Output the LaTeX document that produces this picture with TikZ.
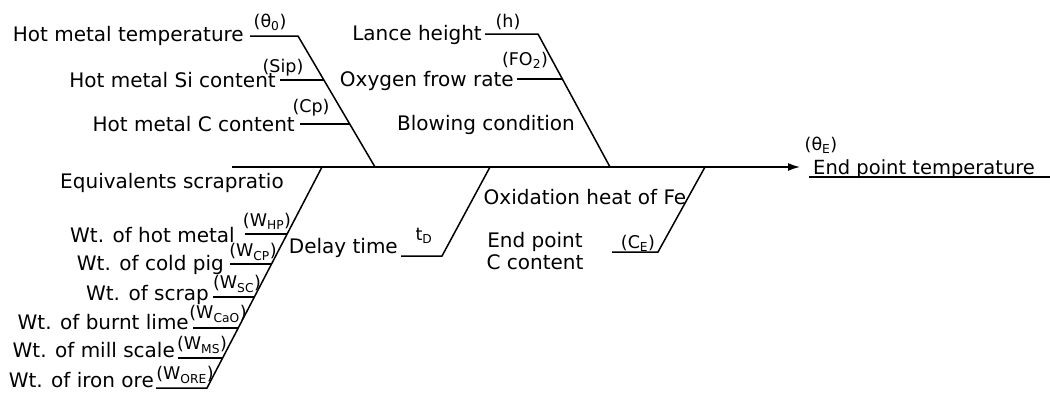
\documentclass[tikz,border=0pt]{standalone}
\usepackage{fontspec}
\setmainfont{DejaVu Sans}
\usepackage{tikz}
\usetikzlibrary{arrows.meta,positioning,calc}

\begin{document}
\begin{tikzpicture}[x=1pt,y=-1pt,
		bone/.style={line width=1.5pt},
		lbl/.style={inner sep=0pt,font=\fontsize{20}{22}\selectfont},
		sym/.style={inner sep=0pt,font=\fontsize{17.5}{21}\selectfont}]
		\useasboundingbox (0,0) rectangle (1050,399);

		% main line
		\coordinate (s0) at (232,167);
		\coordinate (s1) at (800,167);
		\draw[bone,-{Latex[length=12pt,width=8pt]}] (s0) -- (s1);
		\node[lbl,anchor=base west,font=\fontsize{19.5}{22}\selectfont] (ept) at (813,174) {End point temperature};
		\node[sym] (thE) at (821,145) {(θ\textsubscript{E})};
		\coordinate (u0) at (809,177);
		\coordinate (u1) at (1050,177);
		\draw[bone] (u0) -- (u1);

		% hot metal
		\coordinate (a0) at (298,36);
		\coordinate (a1) at (375,167);
		\coordinate (ta1) at (250,36);
		\coordinate (ta2) at (280,80);
		\coordinate (aa2) at (324,80);
		\coordinate (ta3) at (300,124);
		\coordinate (aa3) at (350,124);
		\draw[bone] (ta1) -- (a0) -- (a1);
		\draw[bone] (ta2) -- (aa2);
		\draw[bone] (ta3) -- (aa3);
		\node[lbl,anchor=base east] (hmt) at (244,41) {Hot metal temperature};
		\node[sym] (th0) at (270,22) {(θ\textsubscript{0})};
		\node[lbl,anchor=base east] (hmsi) at (276,87) {Hot metal Si content};
		\node[sym] (sip) at (283,68) {(Sip)};
		\node[lbl,anchor=base east] (hmc) at (295,131) {Hot metal C content};
		\node[sym] (cp) at (311,108) {(Cp)};

		% blowing condition
		\coordinate (b0) at (538,34);
		\coordinate (b1) at (610,167);
		\coordinate (tb1) at (485,34);
		\coordinate (tb2) at (517,79);
		\coordinate (bb2) at (563,79);
		\draw[bone] (tb1) -- (b0) -- (b1);
		\draw[bone] (tb2) -- (bb2);
		\node[lbl,anchor=base east] (lh) at (482,40) {Lance height};
		\node[sym] (h) at (508,22) {(h)};
		\node[lbl,anchor=base east] (ofr) at (514,86) {Oxygen frow rate};
		\node[sym] (fo2) at (525,60) {(FO\textsubscript{2})};
		\node[lbl] (blow) at (486,125) {Blowing condition};

		% scrap ratio
		\coordinate (c0) at (322,167);
		\coordinate (c1) at (207,388);
		\coordinate (tc1) at (245,234);
		\coordinate (cc1) at (287,234);
		\coordinate (tc2) at (230,264);
		\coordinate (cc2) at (271.5,264);
		\coordinate (tc3) at (213,297);
		\coordinate (cc3) at (254.3,297);
		\coordinate (tc4) at (193,328);
		\coordinate (cc4) at (238.2,328);
		\coordinate (tc5) at (178,358);
		\coordinate (cc5) at (222.6,358);
		\coordinate (tc6) at (156,388);
		\draw[bone] (c0) -- (c1) -- (tc6);
		\draw[bone] (tc1) -- (cc1);
		\draw[bone] (tc2) -- (cc2);
		\draw[bone] (tc3) -- (cc3);
		\draw[bone] (tc4) -- (cc4);
		\draw[bone] (tc5) -- (cc5);
		\node[lbl] (esr) at (172,183) {Equivalents scrapratio};
		\node[lbl,anchor=base east] (whp) at (235,242) {Wt. of hot metal};
		\node[sym] (swhp) at (267,221) {(W\textsubscript{HP})};
		\node[lbl,anchor=base east] (wcp) at (224,270) {Wt. of cold pig};
		\node[sym] (swcp) at (253,252) {(W\textsubscript{CP})};
		\node[lbl,anchor=base east] (wsc) at (209,300) {Wt. of scrap};
		\node[sym] (swsc) at (237,284) {(W\textsubscript{SC})};
		\node[lbl,anchor=base east] (wcao) at (189,329) {Wt. of burnt lime};
		\node[sym] (swcao) at (218,314) {(W\textsubscript{CaO})};
		\node[lbl,anchor=base east] (wms) at (175,357) {Wt. of mill scale};
		\node[sym] (swms) at (202,345) {(W\textsubscript{MS})};
		\node[lbl,anchor=base east] (wore) at (154,387) {Wt. of iron ore};
		\node[sym] (swore) at (185,375) {(W\textsubscript{ORE})};

		% delay time
		\coordinate (d0) at (490,167);
		\coordinate (d1) at (442,256);
		\coordinate (td) at (401,256);
		\draw[bone] (d0) -- (d1) -- (td);
		\node[lbl,anchor=base east] (delay) at (398,253) {Delay time};
		\node[sym] (std) at (424,236) {t\textsubscript{D}};

		% oxidation / end point C
		\coordinate (e0) at (705,167);
		\coordinate (e1) at (658,252);
		\coordinate (te) at (612,252);
		\draw[bone] (e0) -- (e1) -- (te);
		\node[lbl] (oxfe) at (585,197) {Oxidation heat of Fe};
		\node[lbl,align=center] (epc) at (535,251) {End point\\C content};
		\node[sym] (ce) at (638,243) {(C\textsubscript{E})};
	\end{tikzpicture}
\end{document}
